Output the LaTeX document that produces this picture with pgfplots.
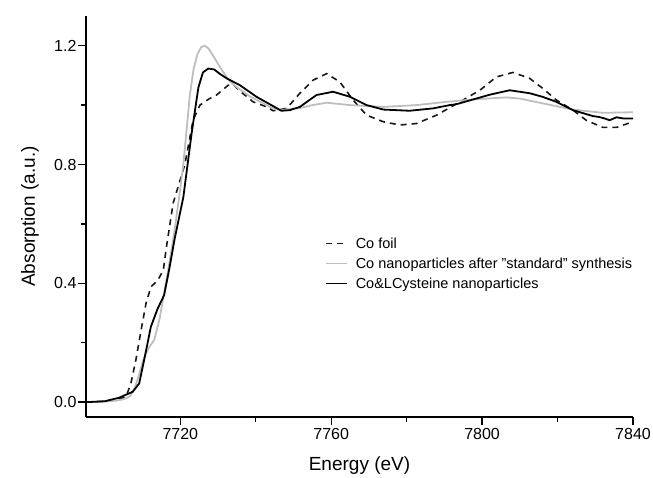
\documentclass[border=0pt]{standalone}
\usepackage{pgfplots}
\pgfplotsset{compat=1.18}
\usepackage{fontspec}
\setmainfont{Liberation Sans}
\definecolor{lgray}{RGB}{190,190,190}
\definecolor{dk}{RGB}{25,25,25}
\begin{document}
\begin{tikzpicture}
\useasboundingbox (-86pt,-60pt) rectangle (567pt,417pt);
\begin{axis}[
  scale only axis, width=547pt, height=401pt,
  xmin=7695, xmax=7840, ymin=-0.05, ymax=1.3,
  axis x line*=bottom, axis y line*=left,
  axis line style={-, line width=1.4pt, black},
  xtick={7720,7760,7800,7840}, ytick={0,0.4,0.8,1.2},
  minor x tick num=1, minor y tick num=1,
  tick align=outside, major tick length=8pt, minor tick length=5pt,
  every tick/.style={black, line width=1.4pt},
  yticklabel style={/pgf/number format/fixed, /pgf/number format/fixed zerofill, /pgf/number format/precision=1, xshift=2pt},
  xticklabel style={/pgf/number format/set thousands separator={}},
  /pgf/number format/assume math mode=true,
  tick label style={font=\fontsize{16}{18}\selectfont},
  label style={font=\fontsize{19}{22}\selectfont},
  xlabel={Energy (eV)}, ylabel={Absorption (a.u.)},
  xlabel style={at={(axis description cs:0.5,-0.12)}, anchor=center},
  ylabel style={at={(axis description cs:-0.1025,0.5)}, anchor=center},
  legend style={at={(axis description cs:0.431,0.458)}, anchor=north west, draw=none, fill=none,
    font=\fontsize{14.5}{17}\selectfont, row sep=4pt},
  legend cell align=left,
  legend image code/.code={\draw[#1] (0pt,0pt) -- (21pt,0pt); \path (27pt,0pt);},
]
\addplot[dk, line width=1.6pt, dash pattern=on 6pt off 5pt] coordinates {
(7695,0.0) (7700,0.003) (7703,0.008) (7705.6,0.018) (7706.9,0.063) (7708.2,0.141)
(7709.6,0.242) (7710.9,0.332) (7712.2,0.388) (7714,0.41) (7715.5,0.444) (7716.2,0.512)
(7718.1,0.67) (7721.2,0.80) (7723.4,0.95) (7725.2,1.0) (7727.5,1.02) (7729.6,1.034)
(7732.7,1.067) (7734,1.07) (7736,1.045) (7739.3,1.011) (7742.9,0.994) (7744.6,0.981)
(7748.2,0.989) (7751.7,1.04) (7755.2,1.084) (7758.8,1.106) (7762.3,1.078) (7765.8,1.017)
(7769.4,0.966) (7773.8,0.944) (7778.2,0.933) (7782.6,0.938) (7787.9,0.966) (7794.1,1.011)
(7799.4,1.05) (7803.8,1.095) (7808.2,1.11) (7812.6,1.09) (7816.1,1.056) (7819.7,1.017)
(7824.1,0.983) (7827.6,0.949) (7832,0.925) (7835.6,0.925) (7840,0.944)
};
\addlegendentry{Co foil}
\addplot[lgray, line width=1.8pt] coordinates {
(7695,0.0) (7700,0.002) (7703,0.005) (7705,0.01) (7706.7,0.02) (7708,0.05) (7709,0.09)
(7710.1,0.14) (7711.5,0.18) (7713.1,0.21) (7714.5,0.28) (7715.7,0.366) (7717,0.46)
(7718.5,0.58) (7720,0.72) (7720.8,0.80) (7722.5,1.03) (7723.5,1.12) (7724.5,1.17)
(7725.5,1.195) (7726.5,1.20) (7727.5,1.19) (7729,1.16) (7731,1.118) (7733.1,1.08)
(7735,1.06) (7738.4,1.03) (7743.7,0.994) (7746.4,0.983) (7751.7,0.99) (7755,1.0)
(7758.8,1.008) (7765,1.0) (7773.8,0.994) (7782.6,1.0) (7790.5,1.011) (7797.6,1.019)
(7806.4,1.026) (7810,1.022) (7815.3,1.008) (7824.1,0.985) (7832,0.974) (7840,0.976)
};
\addlegendentry{Co nanoparticles after \symbol{34}standard\symbol{34} synthesis}
\addplot[black, line width=1.8pt] coordinates {
(7695,0.0) (7700,0.003) (7703.8,0.015) (7707.4,0.035) (7709.1,0.063) (7710.4,0.141)
(7712.2,0.254) (7714,0.315) (7715.7,0.36) (7717.1,0.45) (7718.5,0.55) (7720.8,0.69)
(7723,0.905) (7724.8,1.06) (7726,1.11) (7727.4,1.123) (7729,1.12) (7730.5,1.105)
(7732.3,1.09) (7735.8,1.067) (7740.2,1.028) (7743.7,1.003) (7746.8,0.981) (7749,0.983)
(7751.7,0.994) (7754,1.015) (7756.1,1.034) (7760.5,1.045) (7765,1.028) (7769.4,1.0)
(7773.8,0.985) (7780.8,0.981) (7787,0.989) (7791.4,1.0) (7793.2,1.003) (7797.6,1.019)
(7802,1.035) (7807.3,1.05) (7812.6,1.04) (7816,1.028) (7819.7,1.011) (7824.1,0.983)
(7827,0.972) (7829.4,0.963) (7831,0.96) (7832.5,0.955) (7833.8,0.949) (7835.6,0.959)
(7837.5,0.955) (7840,0.955)
};
\addlegendentry{Co\&LCysteine nanoparticles}
\end{axis}
\end{tikzpicture}
\end{document}
